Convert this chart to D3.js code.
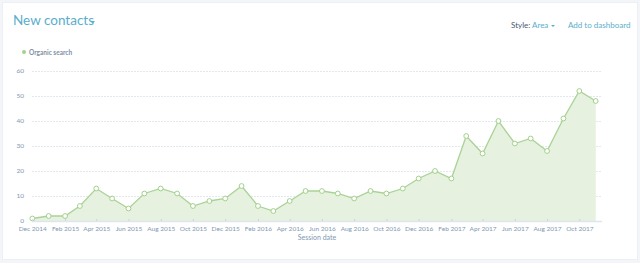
<!DOCTYPE html>
<meta charset="utf-8">
<style>
body { margin: 0; background: #f3f5f8; font-family: Lato, "Open Sans", sans-serif; }
svg { display: block; }
.grid line { stroke: #e3e8ee; stroke-dasharray: 2,1; }
.axis text { fill: #8098b3; }
</style>
<body>
<div id="chart"></div>
<script src="https://cdn.jsdelivr.net/npm/d3@7"></script>
<script>
// monthly new contacts, Organic search
var months = ["2014-12","2015-01","2015-02","2015-03","2015-04","2015-05","2015-06","2015-07","2015-08","2015-09","2015-10","2015-11",
              "2015-12","2016-01","2016-02","2016-03","2016-04","2016-05","2016-06","2016-07","2016-08","2016-09","2016-10","2016-11",
              "2016-12","2017-01","2017-02","2017-03","2017-04","2017-05","2017-06","2017-07","2017-08","2017-09","2017-10","2017-11"];
var organic = [1,2,2,6,13,9,5,11,13,11,6,8,
               9,14,6,4,8,12,12,11,9,12,11,13,
               17,20,17,34,27,40,31,33,28,41,52,48];
var yTicks = [0,10,20,30,40,50,60];
var seriesName = "Organic search";

var W = 640, H = 263;
var parse = d3.timeParse("%Y-%m");
var data = months.map(function(m, i) { return { date: parse(m), value: organic[i] }; });

var svg = d3.select("#chart").append("svg").attr("width", W).attr("height", H);

// card
svg.append("rect").attr("x", 2.5).attr("y", 2.5).attr("width", 635).attr("height", 257)
    .attr("fill", "#fff").attr("stroke", "#eaf0f6");

// header
svg.append("text").attr("x", 13).attr("y", 25).attr("fill", "#5aaecb")
    .attr("font-size", 13.5).text("New contacts");
svg.append("path").attr("d", "M90,21 l5,0 l-2.5,2.5 z").attr("fill", "#5aaecb");

svg.append("text").attr("x", 511).attr("y", 28).attr("fill", "#4a5a6c")
    .attr("font-size", 8).text("Style:");
svg.append("text").attr("x", 532).attr("y", 28).attr("fill", "#5aaecb")
    .attr("font-size", 8).text("Area");
svg.append("path").attr("d", "M551,25 l4,0 l-2,2 z").attr("fill", "#5aaecb");
svg.append("text").attr("x", 568).attr("y", 28).attr("fill", "#5aaecb")
    .attr("font-size", 8).text("Add to dashboard");

// legend
svg.append("circle").attr("cx", 24).attr("cy", 52).attr("r", 2).attr("fill", "#a3d18c");
svg.append("text").attr("x", 29).attr("y", 54.5).attr("fill", "#7f8fa6")
    .attr("font-size", 6.5).attr("font-weight", "bold").text(seriesName);

var x0 = 32, x1 = 602;
var x = d3.scaleTime()
    .domain([data[0].date, data[data.length - 1].date])
    .range([32.3, 595.7]);
var y = d3.scaleLinear().domain([0, 60]).range([221, 71]);

// grid
svg.append("g").attr("class", "grid").selectAll("line")
    .data(yTicks.slice(1)).enter().append("line")
    .attr("x1", x0).attr("x2", x1)
    .attr("y1", function(d) { return y(d) + 0.5; })
    .attr("y2", function(d) { return y(d) + 0.5; });

// y labels
svg.append("g").attr("class", "axis").attr("font-size", 6.5).selectAll("text")
    .data(yTicks).enter().append("text")
    .attr("x", 24).attr("y", function(d) { return y(d) + 2.3; })
    .attr("text-anchor", "end").text(function(d) { return d; });

// area + line
var area = d3.area().x(function(d) { return x(d.date); })
    .y0(y(0)).y1(function(d) { return y(d.value); });
var line = d3.line().x(function(d) { return x(d.date); })
    .y(function(d) { return y(d.value); });

svg.append("path").datum(data).attr("d", area).attr("fill", "#e6f1df");
svg.append("path").datum(data).attr("d", line)
    .attr("fill", "none").attr("stroke", "#a9d395").attr("stroke-width", 1.3);

svg.append("g").selectAll("circle").data(data).enter().append("circle")
    .attr("cx", function(d) { return x(d.date); })
    .attr("cy", function(d) { return y(d.value); })
    .attr("r", 2.4).attr("fill", "#fff")
    .attr("stroke", "#a3d18c").attr("stroke-width", 1);

// x axis
var xTicks = data.filter(function(d, i) { return i % 2 === 0; }).map(function(d) { return d.date; });
var xAxis = d3.axisBottom(x).tickValues(xTicks).tickFormat(d3.timeFormat("%b %Y"))
    .tickSize(0).tickPadding(5.5);
var gx = svg.append("g").attr("class", "axis").attr("transform", "translate(0,221)").call(xAxis)
    .attr("font-size", 6.5).attr("font-family", "Lato, sans-serif");
gx.select(".domain").remove();
gx.append("line").attr("x1", x0).attr("x2", x1).attr("y1", 0.5).attr("y2", 0.5)
    .attr("stroke", "#dfe5ec").attr("stroke-width", 1.5);
gx.selectAll(".tick").append("line").attr("y1", -2).attr("y2", 0).attr("stroke", "#c8d2de");

svg.append("text").attr("x", 317).attr("y", 240).attr("text-anchor", "middle")
    .attr("fill", "#8098b3").attr("font-size", 7).text("Session date");
</script>
</body>
